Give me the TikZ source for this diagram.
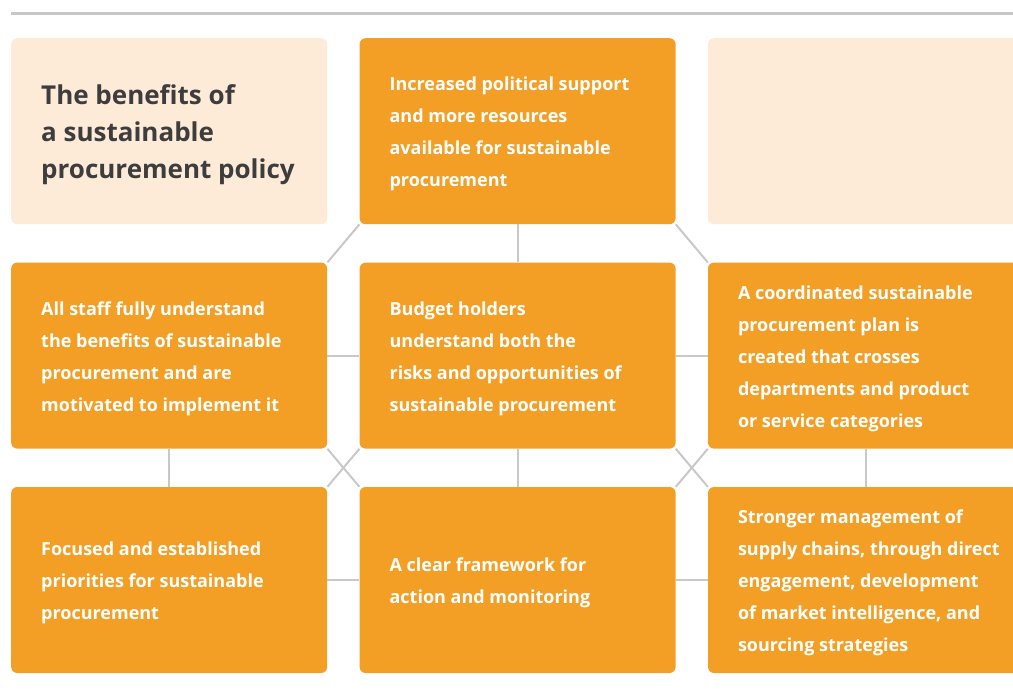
\documentclass[tikz,border=0pt]{standalone}
\usepackage{fontspec}
\setmainfont{Open Sans}
\usetikzlibrary{positioning}
\definecolor{benOrange}{HTML}{F39F26}
\definecolor{benPeach}{HTML}{FDEBD8}
\definecolor{linkGray}{HTML}{C8C8C8}
\definecolor{titleDark}{HTML}{3D3D3D}

\begin{document}
\begin{tikzpicture}[x=1pt, y=-1pt,
    card/.style={rectangle, rounded corners=6pt, fill=benOrange,
      minimum width=316pt, minimum height=186pt, inner sep=0pt},
    blank/.style={card, fill=benPeach},
    txt/.style={anchor=west, align=left, inner sep=0pt, text=white,
      yshift=-3pt, font=\fontsize{18}{32}\selectfont\bfseries},
    head/.style={anchor=west, align=left, inner sep=0pt, text=titleDark,
      yshift=-3pt, font=\fontsize{26}{37}\selectfont\bfseries},
    link/.style={draw=linkGray, line width=2pt}]
    \useasboundingbox (0,0) rectangle (1013,693);
    \clip (0,0) rectangle (1013,693);
    \draw[linkGray, line width=3pt] (11,14) -- (1013,14);
    % grid of cards
    \node[blank, anchor=north west] (title) at (11,38) {};
    \node[card, right=32pt of title] (support) {};
    \node[blank, right=32pt of support] (spare) {};
    \node[card, below=38pt of title] (staff) {};
    \node[card, right=32pt of staff] (budget) {};
    \node[card, right=32pt of budget] (plan) {};
    \node[card, below=38pt of staff] (focus) {};
    \node[card, right=32pt of focus] (frame) {};
    \node[card, right=32pt of frame] (supply) {};
    % connectors
    \draw[link] (support.south west) -- (staff.north east);
    \draw[link] (support.south) -- (budget.north);
    \draw[link] (support.south east) -- (plan.north west);
    \draw[link] (staff.east) -- (budget.west);
    \draw[link] (budget.east) -- (plan.west);
    \draw[link] (staff.south) -- (focus.north);
    \draw[link] (budget.south) -- (frame.north);
    \draw[link] (plan.south) -- (supply.north);
    \draw[link] (staff.south east) -- (frame.north west);
    \draw[link] (budget.south west) -- (focus.north east);
    \draw[link] (budget.south east) -- (supply.north west);
    \draw[link] (plan.south west) -- (frame.north east);
    \draw[link] (focus.east) -- (frame.west);
    \draw[link] (frame.east) -- (supply.west);
    % texts
    \node[head] at ([xshift=30pt]title.west) {The benefits of\\a sustainable\\procurement policy};
    \node[txt] at ([xshift=30pt]support.west) {Increased political support\\and more resources\\available for sustainable\\procurement};
    \node[txt] at ([xshift=30pt]staff.west) {All staff fully understand\\the benefits of sustainable\\procurement and are\\motivated to implement it};
    \node[txt] at ([xshift=30pt]budget.west) {Budget holders\\understand both the\\risks and opportunities of\\sustainable procurement};
    \node[txt] at ([xshift=30pt]plan.west) {A coordinated sustainable\\procurement plan is\\created that crosses\\departments and product\\or service categories};
    \node[txt] at ([xshift=30pt]focus.west) {Focused and established\\priorities for sustainable\\procurement};
    \node[txt] at ([xshift=30pt]frame.west) {A clear framework for\\action and monitoring};
    \node[txt] at ([xshift=30pt]supply.west) {Stronger management of\\supply chains, through direct\\engagement, development\\of market intelligence, and\\sourcing strategies};
\end{tikzpicture}
\end{document}
